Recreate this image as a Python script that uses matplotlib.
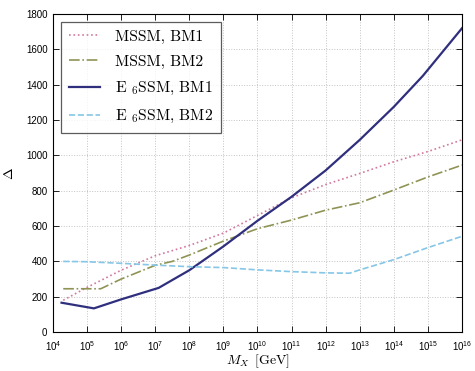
import numpy as np
import matplotlib
matplotlib.use("Agg")
import matplotlib.pyplot as plt
from matplotlib.ticker import NullLocator, FixedLocator

# values (log10 of M_X in GeV, Delta)
mssm_bm1_logx = [4.3, 5.0, 6.0, 7.0, 8.0, 9.0, 10.0, 11.0, 12.0, 13.0, 14.0, 15.0, 16.0]
mssm_bm1_y = [180, 253, 350, 432, 490, 560, 660, 760, 835, 898, 964, 1022, 1088]

mssm_bm2_logx = [4.3, 5.0, 5.4, 6.0, 7.0, 7.5, 8.0, 9.0, 10.0, 11.0, 12.0, 13.0, 14.0, 15.0, 16.0]
mssm_bm2_y = [245, 245, 245, 300, 378, 400, 436, 515, 585, 634, 690, 732, 804, 878, 945]

e6_bm1_logx = [4.25, 5.2, 6.0, 7.1, 8.0, 9.0, 10.0, 11.0, 12.0, 13.0, 14.0, 14.85, 16.0]
e6_bm1_y = [166, 134, 185, 250, 350, 485, 630, 766, 915, 1088, 1275, 1450, 1720]

e6_bm2_logx = [4.3, 5.0, 6.0, 7.0, 8.0, 9.0, 10.0, 11.0, 12.0, 12.7, 13.0, 14.0, 15.0, 16.0]
e6_bm2_y = [400, 398, 389, 379, 370, 365, 352, 342, 335, 333, 352, 410, 478, 542]

labels = ["MSSM, BM1", "MSSM, BM2", r"E $_6$SSM, BM1", r"E $_6$SSM, BM2"]

plt.rcParams['mathtext.fontset'] = 'cm'

fig = plt.figure(figsize=(4.75, 3.71), dpi=100)
ax = fig.add_axes([0.1116, 0.105, 0.8610, 0.857])

ax.plot(10.0 ** np.array(mssm_bm1_logx), mssm_bm1_y, color='#d2789e', ls=':', lw=1.2, label=labels[0])
ax.plot(10.0 ** np.array(mssm_bm2_logx), mssm_bm2_y, color='#8f9455', ls='-.', lw=1.2, label=labels[1])
ax.plot(10.0 ** np.array(e6_bm1_logx), e6_bm1_y, color='#2f2f7e', ls='-', lw=1.6, label=labels[2])
ax.plot(10.0 ** np.array(e6_bm2_logx), e6_bm2_y, color='#86c6e6', ls='--', lw=1.2, label=labels[3])

ax.set_xscale('log')
ax.set_xlim(1e4, 1e16)
ax.set_ylim(0, 1800)
ax.xaxis.set_major_locator(FixedLocator([10.0 ** k for k in range(4, 17)]))
ax.xaxis.set_minor_locator(NullLocator())
ax.set_yticks(range(0, 1801, 200))

ax.grid(True, color='#c4c4c4', ls=':', lw=0.7)
ax.tick_params(direction='in', top=True, right=True, length=4, width=0.6,
               labelsize=7)
ax.tick_params(axis='x', pad=5)
ax.tick_params(axis='y', pad=4)
for lab in ax.get_xticklabels() + ax.get_yticklabels():
    lab.set_family('Liberation Sans')
for s in ax.spines.values():
    s.set_linewidth(0.8)

ax.set_xlabel(r'$M_X\ \, [\mathrm{GeV}]$', fontsize=10, labelpad=0)
ax.set_ylabel(r'$\Delta$', fontsize=10, labelpad=7)

leg = ax.legend(loc='upper left', prop={'family': 'cmr10', 'size': 11.2},
                frameon=True, fancybox=False, edgecolor='#333333', handlelength=2.0,
                handletextpad=0.95, labelspacing=0.72, borderpad=0.5,
                borderaxespad=0.4, bbox_to_anchor=(0.005, 0.995))
leg.get_frame().set_linewidth(0.9)

fig.savefig('out.png', dpi=100)
